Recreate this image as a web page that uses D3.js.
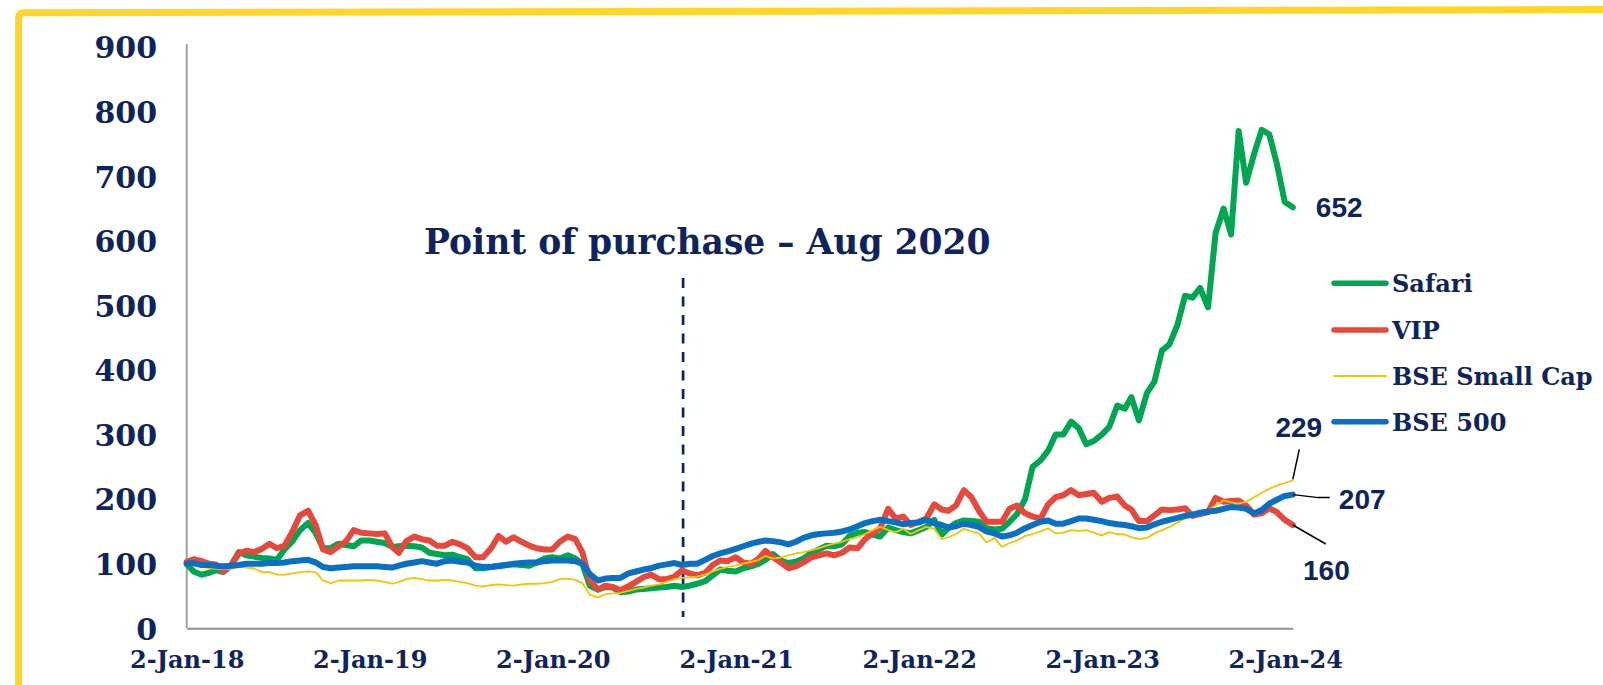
<!DOCTYPE html>
<html><head><meta charset="utf-8">
<script src="https://cdn.jsdelivr.net/npm/d3@7"></script>
<style>
html,body{margin:0;padding:0;background:#fff;}
svg{display:block;}
</style></head><body>
<svg id="chart" width="1603" height="685"></svg>
<script>
// ---------- DATA ----------
const seriesNames = ["Safari", "VIP", "BSE Small Cap", "BSE 500"];
const seriesColors = ["#00a650", "#e8473b", "#ffc000", "#0a70c4"];

// semi-monthly observations (1st & 16th of each month), 2-Jan-2018 .. 17-Jan-2024, rebased to 100
const safari = [
  100, 88, 83, 86, 90, 87, 98, 118, 113, 111, 109, 108, 106, 122, 135, 152, 163, 148, 124, 124, 131, 129, 127, 136,
  136, 134, 132, 126, 127, 128, 127, 125, 117, 115, 113, 114, 110, 107, 93, 93, 95, 97, 98, 99, 98, 97, 102, 108,
  110, 108, 113, 108, 100, 66, 60, 64, 63, 56, 57, 60, 61, 62, 63, 64, 66, 64, 66, 69, 73, 82, 91, 89,
  88, 93, 96, 100, 106, 115, 105, 101, 103, 108, 117, 122, 128, 127, 130, 143, 148, 149, 145, 142, 156, 152, 149, 147,
  152, 157, 168, 145, 155, 163, 167, 166, 165, 155, 153, 154, 165, 177, 200, 250, 260, 275, 300, 300, 320, 310, 285, 290,
  300, 312, 345, 340, 358, 322, 364, 382, 430, 440, 470, 515, 512, 527, 497, 612, 650, 610, 770, 690, 735, 772, 765, 720,
  660, 652
];
const vip = [
  103, 107, 104, 100, 99, 88, 98, 116, 120, 118, 123, 131, 124, 128, 150, 175, 182, 160, 122, 118, 127, 135, 152, 148,
  147, 146, 147, 126, 117, 135, 142, 138, 136, 128, 128, 134, 130, 124, 110, 110, 124, 143, 134, 141, 134, 128, 124, 122,
  122, 134, 142, 138, 118, 74, 60, 66, 64, 59, 65, 72, 79, 83, 76, 76, 80, 90, 85, 82, 86, 98, 105, 104,
  110, 102, 100, 108, 120, 110, 102, 93, 96, 102, 110, 113, 116, 113, 117, 125, 124, 138, 147, 155, 185, 170, 173, 160,
  165, 170, 192, 184, 182, 190, 214, 203, 182, 165, 165, 165, 185, 190, 178, 173, 170, 192, 203, 206, 214, 206, 208, 210,
  196, 202, 204, 190, 184, 166, 166, 175, 184, 183, 184, 186, 174, 177, 180, 202, 196, 197, 198, 190, 176, 178, 186, 180,
  168, 160
];
const bseSmallCap = [
  99, 97, 95, 93, 92, 92, 92, 95, 94, 93, 87, 87, 83, 83, 85, 87, 88, 87, 74, 70, 74, 74, 74, 74,
  75, 74, 72, 69, 72, 76, 78, 76, 74, 74, 75, 74, 72, 70, 66, 65, 67, 68, 67, 66, 68, 69, 69, 70,
  72, 76, 77, 75, 70, 52, 48, 53, 54, 55, 58, 61, 63, 66, 68, 72, 76, 78, 79, 80, 83, 88, 92, 95,
  97, 100, 103, 106, 112, 108, 110, 113, 116, 118, 121, 124, 128, 131, 134, 138, 141, 146, 152, 157, 152, 149, 154, 146,
  152, 157, 154, 138, 141, 146, 154, 150, 147, 133, 140, 126, 132, 136, 143, 146, 150, 155, 147, 148, 152, 151, 152, 148,
  144, 149, 146, 145, 141, 138, 140, 147, 152, 157, 164, 170, 177, 180, 183, 190, 198, 195, 193, 196, 203, 210, 216, 221,
  225, 229
];
const bse500 = [
  100, 101, 98, 98, 97, 96, 97, 98, 100, 100, 100, 101, 101, 102, 104, 105, 106, 102, 95, 93, 94, 95, 96, 96,
  96, 96, 95, 94, 97, 100, 102, 104, 102, 100, 104, 105, 103, 102, 97, 95, 95, 96, 98, 100, 101, 102, 102, 104,
  105, 105, 105, 104, 100, 84, 74, 77, 78, 78, 85, 88, 91, 93, 97, 99, 101, 98, 100, 100, 106, 112, 116, 119,
  123, 127, 131, 134, 136, 135, 133, 130, 134, 140, 144, 146, 147, 148, 150, 153, 158, 163, 166, 168, 166, 164, 161, 163,
  164, 168, 163, 160, 156, 158, 162, 160, 157, 150, 147, 142, 144, 148, 155, 160, 165, 167, 162, 162, 166, 170, 170, 168,
  166, 163, 161, 160, 158, 155, 156, 161, 165, 168, 171, 174, 176, 179, 181, 182, 185, 188, 187, 185, 178, 183, 193, 199,
  205, 207
];
const seriesValues = [safari, vip, bseSmallCap, bse500];

const yTicks = [0, 100, 200, 300, 400, 500, 600, 700, 800, 900];
const xTickDates = ["2018-01-02", "2019-01-02", "2020-01-02", "2021-01-02", "2022-01-02", "2023-01-02", "2024-01-02"];
const purchaseDate = "2020-09-18";
const purchaseLabel = "Point of purchase \u2013 Aug 2020";

// observation dates: 1st and 16th of each month
const dates = [];
d3.utcMonths(new Date(Date.UTC(2018, 0, 1)), new Date(Date.UTC(2024, 1, 1))).forEach(m => {
  dates.push(new Date(Date.UTC(m.getUTCFullYear(), m.getUTCMonth(), 1)));
  dates.push(new Date(Date.UTC(m.getUTCFullYear(), m.getUTCMonth(), 16)));
});
dates[0] = new Date(Date.UTC(2018, 0, 2));
dates[dates.length - 1] = new Date(Date.UTC(2024, 0, 17));

// ---------- CHART ----------
const navy = "#0e2461";
const serif = "'DejaVu Serif', 'Liberation Serif', serif";
const svg = d3.select("#chart");

svg.append("rect").attr("width", 1603).attr("height", 685).attr("fill", "#fff");

// yellow frame
svg.append("path")
  .attr("d", "M18.6,700 L18.6,18 Q18.6,12.8 24,12.8 L1610,9.6")
  .attr("fill", "none").attr("stroke", "#ffd52a").attr("stroke-width", 7).attr("stroke-linejoin", "round");

const parse = d3.utcParse("%Y-%m-%d");
const x = d3.scaleUtc()
  .domain([dates[0], dates[dates.length - 1]])
  .range([186.7, 1292.8]);
const y = d3.scaleLinear().domain([0, 900]).range([628.3, 47.1]);

// y axis
const yAxis = svg.append("g").attr("transform", "translate(186.7,0)")
  .call(d3.axisLeft(y).tickValues(yTicks).tickSize(0).tickSizeOuter(0).tickPadding(29.7));
yAxis.select(".domain").attr("stroke", "#a0a0a0").attr("stroke-width", 2).attr("d", "M0," + y(0) + "V44.3");
yAxis.selectAll("text").attr("fill", navy).attr("font-family", serif).attr("font-weight", "bold")
  .attr("font-size", 30).attr("dy", "0.36em");

// x axis
const xAxis = svg.append("g").attr("transform", "translate(0," + y(0) + ")")
  .call(d3.axisBottom(x).tickValues(xTickDates.map(parse)).tickFormat(d3.utcFormat("%-d-%b-%y"))
    .tickSize(0).tickSizeOuter(0).tickPadding(22.7));
xAxis.select(".domain").attr("stroke", "#909090").attr("stroke-width", 2);
xAxis.selectAll("text").attr("fill", navy).attr("font-family", serif).attr("font-weight", "bold")
  .attr("font-size", 24);

// purchase marker
const px = x(parse(purchaseDate));
svg.append("line").attr("x1", px).attr("x2", px).attr("y1", 278).attr("y2", 617)
  .attr("stroke", navy).attr("stroke-width", 2.7).attr("stroke-dasharray", "10,8.5");
svg.append("text").attr("x", px - 259).attr("y", 253.5).attr("text-anchor", "start")
  .attr("fill", navy).attr("font-family", serif).attr("font-weight", "bold").attr("font-size", 34.5)
  .text(purchaseLabel);

// lines
const widths = [6, 6, 1.8, 6];
const line = d3.line().x(d => x(d.date)).y(d => y(d.v));
seriesValues.forEach((vals, i) => {
  const pts = vals.map((v, k) => ({date: dates[k], v}));
  svg.append("path").datum(pts).attr("d", line)
    .attr("fill", "none").attr("stroke", seriesColors[i]).attr("stroke-width", widths[i])
    .attr("stroke-linejoin", "round").attr("stroke-linecap", "round");
});

// legend
const legendRows = [283.3, 330, 376, 421.7];
seriesNames.forEach((name, i) => {
  const g = svg.append("g").attr("transform", "translate(0," + legendRows[i] + ")");
  g.append("line").attr("x1", 1334).attr("x2", 1386).attr("y1", 0).attr("y2", 0)
    .attr("stroke", seriesColors[i]).attr("stroke-width", Math.min(widths[i], 5.5)).attr("stroke-linecap", "round");
  g.append("text").attr("x", 1392).attr("y", 9).attr("fill", navy).attr("font-family", serif)
    .attr("font-weight", "bold").attr("font-size", 24).text(name);
});

// end-value labels
const fmt = d3.format(".0f");
const sans = "'Liberation Sans', Arial, sans-serif";
const endOf = vals => ({ex: x(dates[vals.length - 1]), ey: y(vals[vals.length - 1]), v: vals[vals.length - 1]});
const labelSpecs = [
  {vals: safari, dx: 46.4, dy: 9.5, leader: null},
  {vals: bseSmallCap, dx: 6, dy: -43.4, leader: (e) => [[e.ex, e.ey - 1], [e.ex + 6.5, e.ey - 31]]},
  {vals: bse500, dx: 69.4, dy: 14.4, leader: (e) => [[e.ex, e.ey], [e.ex + 25.5, e.ey + 3], [e.ex + 37, e.ey + 3]]},
  {vals: vip, dx: 33.6, dy: 55, leader: (e) => [[e.ex, e.ey], [e.ex + 33, e.ey + 19]]}
];
labelSpecs.forEach(s => {
  const e = endOf(s.vals);
  if (s.leader) {
    svg.append("path").attr("d", d3.line()(s.leader(e))).attr("fill", "none")
      .attr("stroke", "#000").attr("stroke-width", 1.5);
  }
  svg.append("text").attr("x", e.ex + s.dx).attr("y", e.ey + s.dy).attr("text-anchor", "middle")
    .attr("fill", navy).attr("font-family", sans).attr("font-weight", "bold").attr("font-size", 28)
    .text(fmt(e.v));
});
</script>
</body></html>
